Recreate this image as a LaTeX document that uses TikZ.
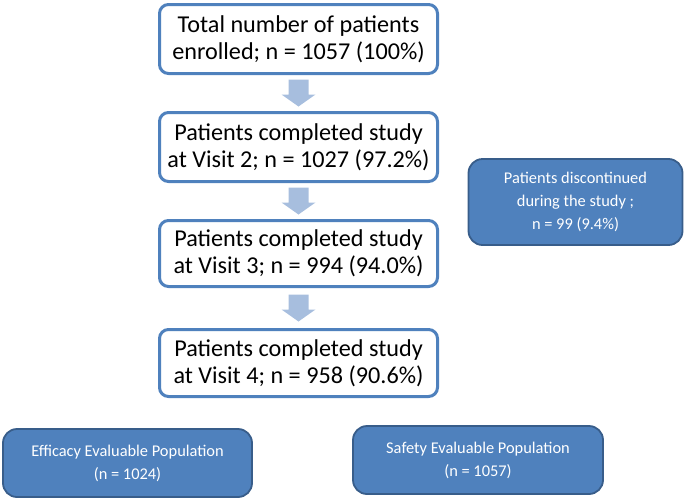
\documentclass[tikz,border=0pt]{standalone}
\usepackage{fontspec}
\setmainfont{Carlito}
\usetikzlibrary{calc}
\definecolor{boxblue}{RGB}{79,129,189}
\definecolor{darkblue}{RGB}{56,93,138}
\definecolor{arrowc}{RGB}{167,190,222}
\tikzset{
  wbox/.style={draw=boxblue, line width=3pt, fill=white, rounded corners=9pt, align=center,
    minimum width=278pt, inner sep=0pt, font=\fontsize{24.2}{27}\selectfont, text=black},
  bbox/.style={draw=darkblue, line width=1.8pt, fill=boxblue, rounded corners=14pt, align=center,
    inner sep=0pt, font=\fontsize{16.4}{23}\selectfont, text=white},
}
\newcommand{\blockarrow}[2]{%
  \fill[arrowc] ($(#1.south)!0.5!(#2.north)$) ++(-10,-13.5) -- ++(20,0) -- ++(0,15) -- ++(7,0)
    -- ++(-17,12) -- ++(-17,-12) -- ++(7,0) -- cycle;}
\begin{document}
\begin{tikzpicture}[x=1pt,y=-1pt]
\useasboundingbox (0,0) rectangle (688,501);
\node[wbox, minimum height=69pt] (b1) at (298.5,39) {Total number of patients\\enrolled; n = 1057 (100\%)};
\node[wbox, minimum height=69pt] (b2) at (298.5,147) {Patients completed study\\at Visit 2; n = 1027 (97.2\%)};
\node[wbox, minimum height=66pt] (b3) at (298.5,253.5) {Patients completed study\\at Visit 3; n = 994 (94.0\%)};
\node[wbox, minimum height=67pt] (b4) at (298.5,363) {Patients completed study\\at Visit 4; n = 958 (90.6\%)};
\blockarrow{b1}{b2}
\blockarrow{b2}{b3}
\blockarrow{b3}{b4}
\node[bbox, minimum width=214pt, minimum height=86pt] (dis) at (575.5,202) {Patients discontinued\\during the study ;\\n = 99 (9.4\%)};
\node[bbox, minimum width=249pt, minimum height=68pt] (eff) at (127.5,463) {Efficacy Evaluable Population\\(n = 1024)};
\node[bbox, minimum width=250pt, minimum height=68pt] (saf) at (478,460) {Safety Evaluable Population\\(n = 1057)};
\end{tikzpicture}
\end{document}
